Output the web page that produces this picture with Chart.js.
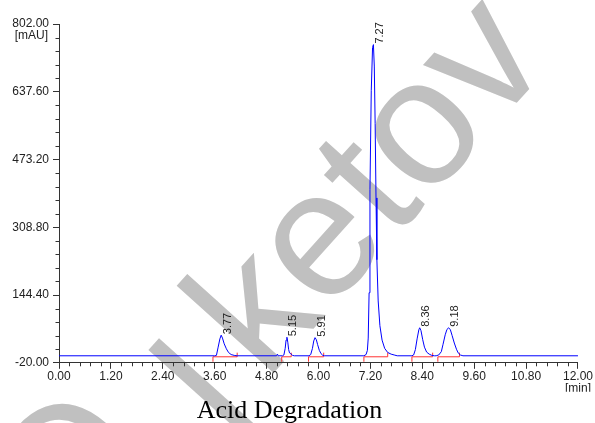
<!DOCTYPE html>
<html>
<head>
<meta charset="utf-8">
<script src="https://cdn.jsdelivr.net/npm/chart.js@4.4.1/dist/chart.umd.min.js"></script>
<style>
  html, body { margin: 0; padding: 0; background: #fff; }
  #wrap { width: 595px; height: 423px; }
</style>
</head>
<body>
<div id="wrap"><canvas id="chromatogram"></canvas></div>
<script>
// ---- values ----
const xTicks = [0, 1.2, 2.4, 3.6, 4.8, 6.0, 7.2, 8.4, 9.6, 10.8, 12.0];
const yTicks = [-20, 144.4, 308.8, 473.2, 637.6, 802];

// detector trace (min, mAU)
const traceTime = [
  0,
  3.60, 3.64, 3.68, 3.72, 3.75, 3.78, 3.82, 3.87, 3.92, 3.98, 4.05, 4.12,
  5.03, 5.05, 5.07,
  5.17, 5.20, 5.23, 5.25, 5.27, 5.29, 5.31, 5.33, 5.36, 5.40, 5.44,
  5.78, 5.82, 5.86, 5.89, 5.92, 5.95, 5.98, 6.02, 6.06, 6.10, 6.14,
  7.05, 7.10, 7.13, 7.15, 7.17, 7.19, 7.22, 7.25, 7.27, 7.29, 7.31, 7.33, 7.35, 7.38, 7.42, 7.47, 7.53, 7.60, 7.68, 7.75, 7.82,
  8.16, 8.20, 8.24, 8.28, 8.32, 8.34, 8.37, 8.41, 8.45, 8.50, 8.56, 8.62, 8.68,
  8.72, 8.78, 8.84, 8.88, 8.93, 8.97, 9.01, 9.05, 9.09, 9.14, 9.19, 9.23, 9.28, 9.34,
  12.0
];
const traceSignal = [
  -3,
  -3, -2, 18, 38, 47, 40, 26, 14, 5, 0, -2, -3,
  -3, 1, -3,
  -3, -1, 15, 35, 42, 30, 12, 4, 2, -2, -3,
  -3, 0, 15, 33, 41, 36, 24, 10, 2, -2, -3,
  -3, 0, 10, 40, 150, 400, 640, 745, 752, 700, 560, 380, 230, 130, 70, 35, 15, 5, 1, -1, -3,
  -3, -1, 12, 38, 60, 65, 58, 36, 18, 6, 1, -2, -3,
  -3, -1, 7, 25, 48, 61, 65, 60, 46, 28, 13, 4, -1, -3,
  -3
];

// integration marks
const peakLabels = ['3.77', '5.15', '5.91', '7.27', '8.36', '9.18'];
const intStart = [3.56, 5.15, 5.77, 7.05, 8.16, 8.76];
const intEnd = [4.12, 5.37, 6.12, 7.60, 8.64, 9.26];
const intLevel = -5.4;

const traceData = traceTime.map((t, i) => ({ x: t, y: traceSignal[i] }));

const intData = [];
intStart.forEach((s, i) => {
  const e = intEnd[i];
  intData.push({ x: s, y: intLevel - 12 });
  intData.push({ x: s, y: intLevel });
  intData.push({ x: e, y: intLevel });
  intData.push({ x: e, y: intLevel + 10 });
  intData.push({ x: e, y: null });
});

const TICK_FONT = { family: "'Liberation Sans', Arial, sans-serif", size: 12 };

const extras = {
  id: 'extras',
  beforeDraw(chart) {
    // grey watermark behind the plot, origin at the centre of the "o"
    const ctx = chart.ctx;
    const size = 180;
    ctx.save();
    ctx.font = size + "px 'Liberation Sans', Arial, sans-serif";
    ctx.fillStyle = '#c0c0c0';
    ctx.textBaseline = 'alphabetic';
    ctx.textAlign = 'left';
    ctx.translate(425, 135);
    ctx.rotate(-48 * Math.PI / 180);
    const base = size * 0.26;
    const kStart = -(ctx.measureText('ket').width + ctx.measureText('o').width / 2);
    ctx.fillText('ketov', kStart, base);
    ctx.fillText('l', -357, base + 22);
    ctx.fillText('O', -559, base - 29);
    ctx.restore();
  },
  afterDraw(chart) {
    const ctx = chart.ctx;
    const xs = chart.scales.x, ys = chart.scales.y;
    const area = chart.chartArea;
    ctx.save();

    // minor ticks
    ctx.strokeStyle = '#333';
    ctx.lineWidth = 1;
    ctx.beginPath();
    for (let i = 0; i < xTicks.length - 1; i++) {
      for (let k = 1; k < 5; k++) {
        const v = xTicks[i] + (xTicks[i + 1] - xTicks[i]) * k / 5;
        const px = Math.round(xs.getPixelForValue(v)) + 0.5;
        ctx.moveTo(px, area.bottom);
        ctx.lineTo(px, area.bottom + 3.5);
      }
    }
    for (let i = 0; i < yTicks.length - 1; i++) {
      for (let k = 1; k < 5; k++) {
        const v = yTicks[i] + (yTicks[i + 1] - yTicks[i]) * k / 5;
        const py = Math.round(ys.getPixelForValue(v)) + 0.5;
        ctx.moveTo(area.left - 3.5, py);
        ctx.lineTo(area.left, py);
      }
    }
    ctx.stroke();

    // unit label under the top y tick
    ctx.fillStyle = '#222';
    ctx.font = "12px 'Liberation Sans', Arial, sans-serif";
    ctx.textAlign = 'right';
    ctx.textBaseline = 'middle';
    ctx.fillText('[mAU]', 48, 36);

    // retention time labels at each peak apex
    ctx.font = "11px 'Liberation Sans', Arial, sans-serif";
    peakLabels.forEach((lab, i) => {
      let best = null;
      traceTime.forEach((t, j) => {
        if (t >= intStart[i] && t <= intEnd[i] && (best === null || traceSignal[j] > traceSignal[best])) best = j;
      });
      const px = xs.getPixelForValue(traceTime[best]);
      const py = ys.getPixelForValue(traceSignal[best]);
      ctx.save();
      ctx.translate(px + 1, py - 1);
      ctx.rotate(-Math.PI / 2);
      ctx.textAlign = 'left';
      ctx.textBaseline = 'top';
      ctx.fillText(lab, 0, 0);
      ctx.restore();
    });
    ctx.restore();
  }
};

new Chart(document.getElementById('chromatogram'), {
  type: 'line',
  data: {
    datasets: [
      {
        label: 'Signal',
        data: traceData,
        borderColor: '#0000ff',
        borderWidth: 1,
        pointRadius: 0,
        tension: 0,
        fill: false
      },
      {
        label: 'Integration',
        data: intData,
        borderColor: '#ff3333',
        borderWidth: 1,
        pointRadius: 0,
        tension: 0,
        spanGaps: false,
        fill: false
      }
    ]
  },
  options: {
    responsive: true,
    maintainAspectRatio: false,
    animation: false,
    layout: { padding: { top: 24, right: 16, bottom: -4, left: 0 } },
    plugins: {
      legend: { display: false },
      tooltip: { enabled: false },
      title: {
        display: true,
        position: 'bottom',
        text: 'Acid Degradation',
        color: '#000',
        font: { family: "'Liberation Serif', 'Times New Roman', serif", size: 26, weight: 'normal' },
        padding: { top: 4, bottom: 0 }
      }
    },
    scales: {
      x: {
        type: 'linear',
        min: 0,
        max: 12,
        afterBuildTicks: s => { s.ticks = xTicks.map(v => ({ value: v })); },
        afterFit: s => { s.height = 29; },
        grid: { drawOnChartArea: false, tickLength: 6, tickColor: '#333' },
        border: { color: '#333' },
        ticks: {
          autoSkip: false,
          maxRotation: 0,
          padding: 2,
          color: '#222',
          font: { ...TICK_FONT, lineHeight: 1.0 },
          callback: (v, i) => i === xTicks.length - 1 ? [v.toFixed(2), '[min]'] : v.toFixed(2)
        }
      },
      y: {
        type: 'linear',
        min: -20,
        max: 802,
        afterBuildTicks: s => { s.ticks = yTicks.map(v => ({ value: v })); },
        afterFit: s => { s.width = 59; },
        grid: { drawOnChartArea: false, tickLength: 6, tickColor: '#333' },
        border: { color: '#333' },
        ticks: {
          autoSkip: false,
          padding: 4,
          color: '#222',
          font: TICK_FONT,
          callback: v => v.toFixed(2)
        }
      }
    }
  },
  plugins: [extras]
});
</script>
</body>
</html>
